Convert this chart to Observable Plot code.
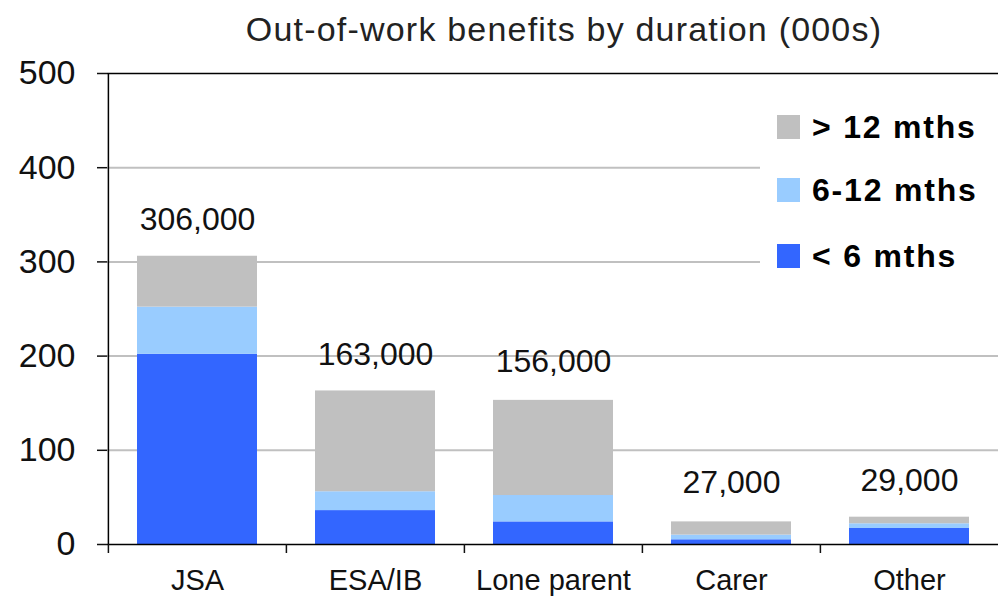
<!DOCTYPE html>
<html>
<head>
<meta charset="utf-8">
<script src="https://cdn.jsdelivr.net/npm/d3@7"></script>
<script src="https://cdn.jsdelivr.net/npm/@observablehq/plot@0.6"></script>
<style>
  body { margin: 0; background: #fff; font-family: "Liberation Sans", Arial, sans-serif; }
  #wrap { position: relative; width: 998px; height: 598px; overflow: hidden; }
  #title { height: 40px; line-height: 58px; font-size: 34px; color: #222; text-align: center; padding-left: 130px; width: 868px; letter-spacing: 1.2px; white-space: nowrap; }
  #legend { position: absolute; left: 760px; top: 97px; width: 238px; height: 188px; background: #fff; }
  .row { position: absolute; left: 17px; height: 40px; display: flex; align-items: center; font-weight: bold; font-size: 32px; color: #000; letter-spacing: 1.8px; white-space: nowrap; }
  .sw { width: 23px; height: 24px; margin-right: 12px; }
</style>
</head>
<body>
<div id="wrap">
  <div id="title">Out-of-work benefits by duration (000s)</div>
  <div id="chart"></div>
  <div id="legend"></div>
</div>
<script>
const categories = ["JSA", "ESA/IB", "Lone parent", "Carer", "Other"];
const under6 = [202, 36, 24, 5, 17];
const six12 = [50, 20, 28, 5, 5];
const over12 = [54, 107, 101, 14, 7];
const totalValues = [306, 163, 156, 27, 29];
const totalLabels = ["306,000", "163,000", "156,000", "27,000", "29,000"];
const durations = ["< 6 mths", "6-12 mths", "> 12 mths"];
const colors = ["#3366FF", "#99CCFF", "#C0C0C0"];
const yTicks = [0, 100, 200, 300, 400, 500];
const gridTicks = [100, 200, 300, 400];

const series = [under6, six12, over12];
const rows = [];
categories.forEach((c, i) => {
  durations.forEach((d, j) => rows.push({category: c, duration: d, value: series[j][i]}));
});
const labels = categories.map((c, i) => ({category: c, total: totalValues[i], text: totalLabels[i]}));

const W = 998, H = 558, ML = 107, MR = 0;
const half = (W - ML - MR) / categories.length / 2;

const chart = Plot.plot({
  width: W,
  height: H,
  marginTop: 33,
  marginBottom: 54,
  marginLeft: ML,
  marginRight: MR,
  x: {domain: categories, padding: 0, label: null},
  y: {domain: [0, 500], label: null},
  color: {domain: durations, range: colors},
  style: {fontFamily: "'Liberation Sans', Arial, sans-serif", color: "#111", background: "#fff", overflow: "visible"},
  marks: [
    Plot.ruleY(gridTicks, {stroke: "#c0c0c0", strokeWidth: 2}),
    Plot.barY(rows, Plot.stackY({x: "category", y: "value", fill: "duration", order: durations, insetLeft: 29, insetRight: 29})),
    Plot.ruleY([0, 500], {stroke: "#000", strokeWidth: 1.5}),
    Plot.ruleX([categories[0]], {y1: 0, y2: 500, dx: -half, stroke: "#000", strokeWidth: 1.5}),
    Plot.axisY({ticks: yTicks, tickSize: 10, tickPadding: 22, fontSize: 34, letterSpacing: 2, tickFormat: d => String(d), strokeWidth: 1.5}),
    Plot.axisX({tickSize: 0, tickPadding: 25, fontSize: 29, letterSpacing: 0.3}),
    Plot.axisX({tickSize: 9, tickFormat: () => "", dx: -half, strokeWidth: 1.5}),
    Plot.text(labels, {x: "category", y: "total", text: "text", dy: -36, fontSize: 32, fill: "#111", letterSpacing: 0.9})
  ]
});
document.getElementById("chart").appendChild(chart);

const legend = document.getElementById("legend");
const legendOrder = [2, 1, 0];
const rowTops = [10, 73, 139];
legendOrder.forEach((j, k) => {
  const r = document.createElement("div");
  r.className = "row";
  r.style.top = rowTops[k] + "px";
  const sw = document.createElement("div");
  sw.className = "sw";
  sw.style.background = colors[j];
  const t = document.createElement("span");
  t.textContent = durations[j];
  r.appendChild(sw);
  r.appendChild(t);
  legend.appendChild(r);
});
</script>
</body>
</html>
